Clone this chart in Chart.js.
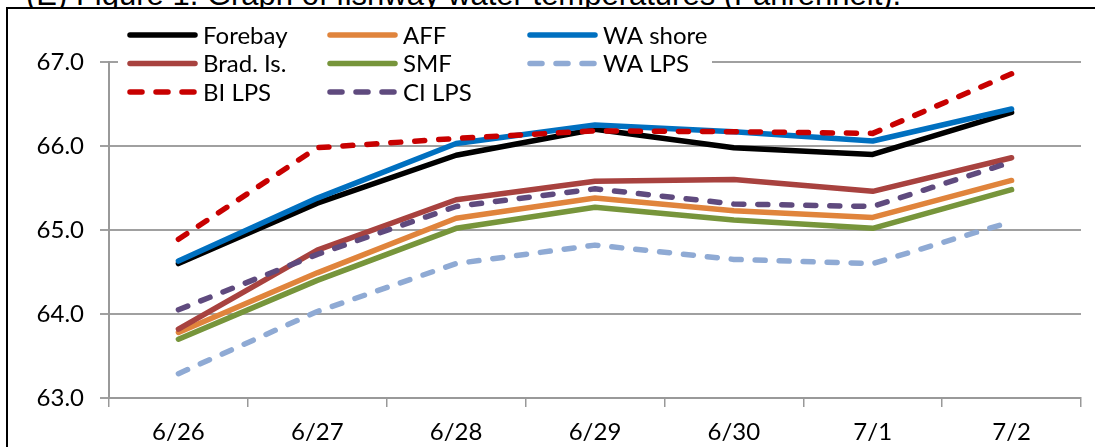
<!DOCTYPE html>
<html>
<head>
<meta charset="utf-8">
<script src="https://cdn.jsdelivr.net/npm/chart.js@4.4.1/dist/chart.umd.min.js"></script>
<style>
  html, body { margin: 0; padding: 0; background: #fff; overflow: hidden; }
  #wrap { position: relative; width: 1095px; height: 447px; overflow: hidden; }
  #title { position: absolute; left: 26px; top: -21px; font: 31px "Liberation Sans", Arial, sans-serif; line-height: 31px; white-space: nowrap; color: #000; }
  #frame { position: absolute; left: 6px; top: 7px; width: 2000px; height: 2000px; border-left: 2px solid #000; border-top: 2px solid #000; background: #fff; }
  #chart { position: absolute; left: 0; top: 0; }
</style>
</head>
<body>
<div id="wrap">
  <div id="title">(E) Figure 1. Graph of fishway water temperatures (Fahrenheit).</div>
  <div id="frame"></div>
  <canvas id="chart" width="1095" height="447"></canvas>
</div>
<script>
// water temperatures, deg F
const dates = ["6/26", "6/27", "6/28", "6/29", "6/30", "7/1", "7/2"];
const yTicks = [63, 64, 65, 66, 67];

const forebay = [64.60, 65.32, 65.89, 66.20, 65.98, 65.90, 66.40];
const aff     = [63.78, 64.49, 65.14, 65.38, 65.23, 65.15, 65.59];
const waShore = [64.63, 65.38, 66.03, 66.25, 66.17, 66.06, 66.44];
const bradIs  = [63.82, 64.76, 65.36, 65.58, 65.60, 65.46, 65.86];
const smf     = [63.70, 64.40, 65.02, 65.27, 65.12, 65.02, 65.48];
const waLps   = [63.29, 64.03, 64.60, 64.82, 64.65, 64.60, 65.10];
const biLps   = [64.89, 65.98, 66.09, 66.18, 66.17, 66.15, 66.86];
const ciLps   = [64.05, 64.71, 65.28, 65.49, 65.31, 65.28, 65.81];

const FONT = "Lato";
const dash = [10, 14];

function series(label, data, color, dashed) {
    return {
        label: label,
        data: data,
        borderColor: color,
        backgroundColor: color,
        borderWidth: 5.5,
        borderDash: dashed ? dash : [],
        borderCapStyle: "round",
        borderJoinStyle: "round",
        pointRadius: 0,
        tension: 0,
        fill: false
    };
}

const datasets = [
    series("Forebay", forebay, "#000000", false),
    series("AFF", aff, "#E0843C", false),
    series("WA shore", waShore, "#0070C0", false),
    series("Brad. Is.", bradIs, "#A8423F", false),
    series("SMF", smf, "#77953B", false),
    series("WA LPS", waLps, "#8FAAD4", true),
    series("BI LPS", biLps, "#C80000", true),
    series("CI LPS", ciLps, "#5F4A7E", true)
];
// later series sit on top, like the spreadsheet
datasets.forEach((d, i) => { d.order = datasets.length - i; });

// legend box inside the plot, 3 columns
const insideLegend = {
    id: "insideLegend",
    afterDraw(chart) {
        const ctx = chart.ctx;
        ctx.save();
        ctx.fillStyle = "#fff";
        ctx.fillRect(118, 20, 594, 86);
        ctx.font = "24px " + FONT;
        ctx.textBaseline = "middle";
        ctx.fillStyle = "#000";
        chart.data.datasets.forEach((ds, i) => {
            const col = i % 3, row = Math.floor(i / 3);
            const x = 127 + col * 200;
            const y = 35 + row * 28.5;
            ctx.beginPath();
            ctx.strokeStyle = ds.borderColor;
            ctx.lineWidth = 5.5;
            ctx.lineCap = "round";
            ctx.setLineDash(ds.borderDash.length ? [12, 14] : []);
            ctx.moveTo(x + 3, y);
            ctx.lineTo(x + 68, y);
            ctx.stroke();
            ctx.setLineDash([]);
            ctx.fillText(ds.label, x + 76, y + 1);
        });
        ctx.restore();
    }
};

new Chart(document.getElementById("chart"), {
    type: "line",
    data: { labels: dates, datasets: datasets },
    options: {
        responsive: false,
        animation: false,
        events: [],
        layout: { padding: { left: 0, top: 62, right: 14, bottom: 0 } },
        plugins: { legend: { display: false }, tooltip: { enabled: false } },
        scales: {
            x: {
                offset: true,
                grid: { offset: true, drawOnChartArea: false, drawTicks: true, tickLength: 9, color: "#999", lineWidth: 1.5 },
                border: { color: "#999", width: 2 },
                ticks: { color: "#000", font: { family: FONT, size: 24 }, padding: 11, maxRotation: 0 },
                afterFit(scale) { scale.height = 49; }
            },
            y: {
                min: yTicks[0],
                max: yTicks[yTicks.length - 1],
                afterBuildTicks(scale) { scale.ticks = yTicks.map(v => ({ value: v })); },
                grid: { color: "#A0A0A0", lineWidth: 2, tickLength: 9 },
                border: { color: "#999", width: 2 },
                ticks: {
                    color: "#000",
                    font: { family: FONT, size: 24 },
                    padding: 16,
                    callback: v => Number(v).toFixed(1)
                },
                afterFit(scale) { scale.width = 109; }
            }
        }
    },
    plugins: [insideLegend]
});
</script>
</body>
</html>
